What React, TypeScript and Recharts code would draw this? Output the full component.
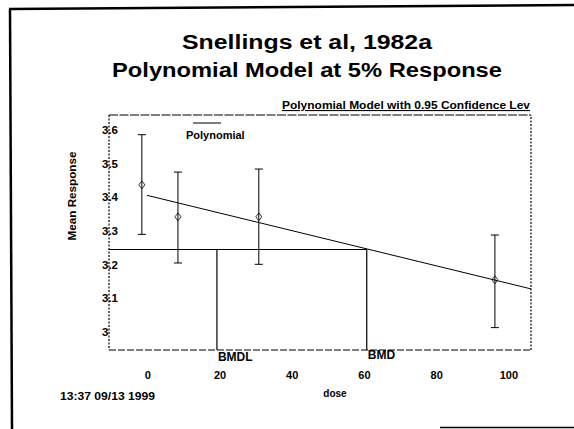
import React from 'react';
import {
  ComposedChart,
  Scatter,
  Line,
  XAxis,
  YAxis,
  ErrorBar,
  ReferenceLine,
  ReferenceDot,
} from 'recharts';

// ---- data ----
const doses = [0, 10, 32.4, 97.8];
const means = [3.437, 3.342, 3.342, 3.155];
const lowerCL = [3.29, 3.205, 3.201, 3.013];
const upperCL = [3.586, 3.475, 3.484, 3.288];
const fitDoses = [1.4, 107.8];
const fitValues = [3.406, 3.128];
const xTicks = [0, 20, 40, 60, 80, 100];
const yTicks = [3, 3.1, 3.2, 3.3, 3.4, 3.5, 3.6];
const xDomain: [number, number] = [-9.1, 107.8];
const yDomain: [number, number] = [2.9465, 3.6445];
const bmrLevel = 3.245;
const bmdl = 20.8;
const bmd = 62.3;

const points = doses.map((d, i) => ({
  dose: d,
  mean: means[i],
  err: [means[i] - lowerCL[i], upperCL[i] - means[i]],
}));
const fitData = fitDoses.map((d, i) => ({ dose: d, fit: fitValues[i] }));

const FONT = '"Liberation Sans", Arial, sans-serif';
const W = 574;
const H = 429;

const Marker = (props: any) => {
  const { cx, cy } = props;
  if (cx == null || cy == null) return null;
  return (
    <g>
      <path
        d={`M${cx},${cy - 4} L${cx + 3},${cy} L${cx},${cy + 4} L${cx - 3},${cy} Z`}
        fill="none"
        stroke="#000"
        strokeWidth={0.8}
      />
    </g>
  );
};

const XTick = (props: any) => {
  const { x, payload } = props;
  return (
    <text x={x + 6} y={379} textAnchor="middle" fontFamily={FONT} fontWeight="bold" fontSize={11} fill="#000">
      {payload.value}
    </text>
  );
};

const YTick = (props: any) => {
  const { y, payload } = props;
  return (
    <text x={102} y={y + 4} textAnchor="start" fontFamily={FONT} fontWeight="bold" fontSize={11.5} fill="#000">
      {String(payload.value)}
    </text>
  );
};

const makeLabel = (text: string, dy: number) => (props: any) => {
  const vb = props.viewBox || {};
  return (
    <text x={(vb.x || 0) + 1} y={(vb.y || 0) + dy} fontFamily={FONT} fontWeight="bold" fontSize={12} fill="#000">
      {text}
    </text>
  );
};

export default function App() {
  return (
    <div style={{ position: 'fixed', left: 0, top: 0, width: W, height: H, background: '#fff' }}>
      <ComposedChart
        width={W}
        height={H}
        margin={{ top: 115, right: 43, bottom: 49, left: 69 }}
      >
        <XAxis
          type="number"
          dataKey="dose"
          domain={xDomain}
          ticks={xTicks}
          interval={0}
          allowDataOverflow
          height={30}
          tickLine={false}
          tick={<XTick />}
          axisLine={{ stroke: '#000', strokeWidth: 1.2, strokeDasharray: '7 2' }}
        />
        <YAxis
          type="number"
          dataKey="mean"
          domain={yDomain}
          ticks={yTicks}
          interval={0}
          allowDataOverflow
          width={40}
          tickLine={false}
          tick={<YTick />}
          axisLine={{ stroke: '#000', strokeWidth: 1.2, strokeDasharray: '2 1.5' }}
        />
        <ReferenceLine y={yDomain[1]} stroke="#000" strokeWidth={1.2} strokeDasharray="9 1.5" />
        <ReferenceLine x={xDomain[1]} stroke="#000" strokeWidth={1.2} strokeDasharray="2 1.5" />
        <ReferenceLine
          segment={[{ x: xDomain[0], y: bmrLevel }, { x: bmd, y: bmrLevel }]}
          stroke="#000"
          strokeWidth={1.2}
        />
        <ReferenceLine
          segment={[{ x: bmdl, y: bmrLevel }, { x: bmdl, y: yDomain[0] }]}
          stroke="#000"
          strokeWidth={1.2}
        />
        <ReferenceLine
          segment={[{ x: bmd, y: bmrLevel }, { x: bmd, y: yDomain[0] }]}
          stroke="#000"
          strokeWidth={1.2}
        />
        <ReferenceDot x={bmdl} y={yDomain[0]} r={0} fill="none" stroke="none" label={makeLabel('BMDL', 11)} />
        <ReferenceDot x={bmd} y={yDomain[0]} r={0} fill="none" stroke="none" label={makeLabel('BMD', 9)} />
        <Line
          data={fitData}
          dataKey="fit"
          type="linear"
          stroke="#000"
          strokeWidth={1}
          dot={false}
          isAnimationActive={false}
        />
        <Scatter data={points} dataKey="mean" shape={<Marker />} isAnimationActive={false}>
          <ErrorBar dataKey="err" direction="y" width={4} stroke="#000" strokeWidth={1} />
        </Scatter>
      </ComposedChart>
      <svg
        width={W}
        height={H}
        style={{ position: 'absolute', left: 0, top: 0, pointerEvents: 'none' }}
      >
        {/* page frame */}
        <line x1={9} y1={9} x2={574} y2={5} stroke="#000" strokeWidth={2.5} />
        <line x1={10} y1={9} x2={12} y2={429} stroke="#000" strokeWidth={2.5} />
        <line x1={440} y1={427.5} x2={574} y2={427.5} stroke="#000" strokeWidth={1.5} />
        {/* titles */}
        <text x={307} y={49} textAnchor="middle" fontFamily={FONT} fontWeight="bold" fontSize={20} fill="#000"
          textLength={250} lengthAdjust="spacingAndGlyphs">
          Snellings et al, 1982a
        </text>
        <text x={307} y={77} textAnchor="middle" fontFamily={FONT} fontWeight="bold" fontSize={20} fill="#000"
          textLength={390} lengthAdjust="spacingAndGlyphs">
          Polynomial Model at 5% Response
        </text>
        <text x={530} y={109} textAnchor="end" fontFamily={FONT} fontWeight="bold" fontSize={11} fill="#000"
          textDecoration="underline" textLength={248} lengthAdjust="spacingAndGlyphs">
          Polynomial Model with 0.95 Confidence Lev
        </text>
        {/* legend */}
        <line x1={193} y1={123} x2={221} y2={123} stroke="#000" strokeWidth={1} />
        <text x={186} y={139} fontFamily={FONT} fontWeight="bold" fontSize={11} fill="#000">
          Polynomial
        </text>
        {/* axis titles */}
        <text
          x={0}
          y={0}
          transform="translate(76,196) rotate(-90)"
          textAnchor="middle"
          fontFamily={FONT}
          fontWeight="bold"
          fontSize={11}
          fill="#000"
          textLength={89}
          lengthAdjust="spacingAndGlyphs"
        >
          Mean Response
        </text>
        <text x={335} y={397} textAnchor="middle" fontFamily={FONT} fontWeight="bold" fontSize={10} fill="#000">
          dose
        </text>
        <text x={60} y={400} fontFamily={FONT} fontWeight="bold" fontSize={11} fill="#000"
          textLength={95} lengthAdjust="spacingAndGlyphs">
          13:37 09/13 1999
        </text>
      </svg>
    </div>
  );
}
